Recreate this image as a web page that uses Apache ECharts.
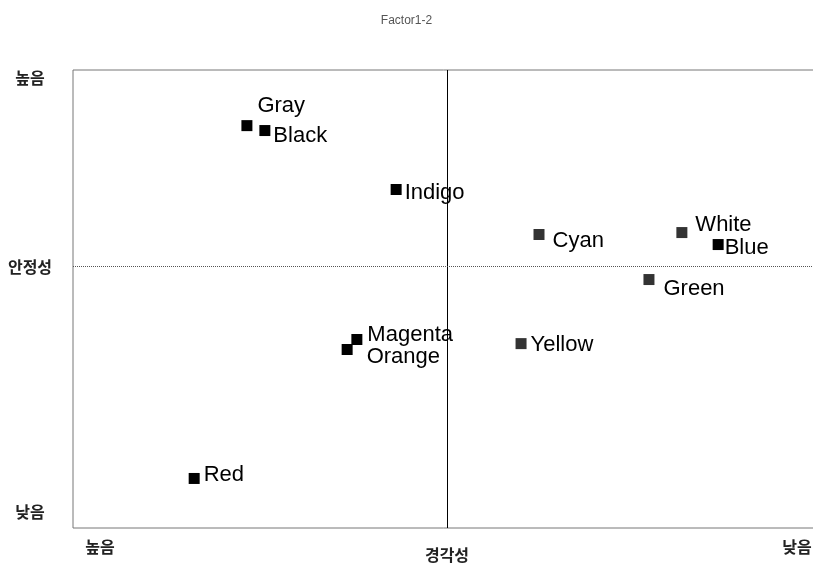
<!DOCTYPE html>
<html>
<head>
<meta charset="utf-8">
<script src="https://cdn.jsdelivr.net/npm/echarts@6/dist/echarts.min.js"></script>
<style>
  html, body { margin: 0; padding: 0; background: #fff; }
  #myChart { width: 813px; height: 565px; }
</style>
</head>
<body>
<div id="myChart"></div>
<script>
// data
var names = ["Gray", "Black", "Indigo", "Cyan", "White", "Blue", "Green", "Magenta", "Orange", "Yellow", "Red"];
var xValues = [-0.535, -0.487, -0.136, 0.246, 0.628, 0.725, 0.540, -0.241, -0.267, 0.198, -0.676];
var yValues = [0.717, 0.692, 0.392, 0.163, 0.173, 0.112, -0.066, -0.371, -0.422, -0.392, -1.078];

// axis tick labels
var xTickValues = [-0.928, 0, 0.936];
var xTickLabels = ["높음", "경각성", "낮음"];
var yTickValues = [0.961, 0, -1.246];
var yTickLabels = ["높음", "안정성", "낮음"];

// label placement per point: [distance, offsetX, offsetY]
var labelPlace = {
  Gray: [5, 0, -20], Black: [3, 0, 5], Indigo: [3, 0, 3], Cyan: [8, 0, 6],
  White: [8, 0, -8], Blue: [1, 0, 3], Green: [9, 0, 9], Magenta: [5, 0, -5],
  Orange: [14, 0, 7], Yellow: [4, 0, 1], Red: [4, 0, -4]
};
var greyMarks = { Cyan: true, White: true, Green: true, Yellow: true };

var points = names.map(function (n, i) {
  var p = labelPlace[n];
  return {
    name: n,
    value: [xValues[i], yValues[i]],
    itemStyle: { color: greyMarks[n] ? "#333" : "#000", opacity: 1 },
    label: { distance: p[0], offset: [p[1], p[2]] }
  };
});

function tickName(values, labels) {
  return function (v) {
    for (var i = 0; i < values.length; i++) {
      if (Math.abs(values[i] - v) < 1e-6) return labels[i] === "경각성" ? "{c|" + labels[i] + "}" : labels[i];
    }
    return "";
  };
}

var korFont = "Noto Sans CJK KR";

var option = {
  animation: false,
  title: {
    text: "Factor1-2",
    left: "center",
    top: 10,
    textStyle: { fontSize: 12, fontWeight: "normal", color: "#555", fontFamily: "Liberation Sans Narrow, Liberation Sans" }
  },
  grid: {
    left: 73, top: 70, width: 748, height: 458,
    outerBoundsMode: "none",
    show: true, borderColor: "#777", borderWidth: 1
  },
  xAxis: {
    type: "value", min: -1, max: 1,
    axisLine: { show: false }, axisTick: { show: false }, splitLine: { show: false },
    axisLabel: {
      customValues: xTickValues,
      formatter: tickName(xTickValues, xTickLabels),
      margin: 11,
      fontSize: 16, fontWeight: "bold", color: "#222",
      fontFamily: korFont,
      rich: { c: { fontSize: 16, fontWeight: "bold", color: "#222", fontFamily: korFont, padding: [8, 0, 0, 0] } }
    }
  },
  yAxis: {
    type: "value", min: -1.33, max: 1.0,
    axisLine: { show: false }, axisTick: { show: false }, splitLine: { show: false },
    axisLabel: {
      customValues: yTickValues,
      formatter: tickName(yTickValues, yTickLabels),
      margin: 43,
      align: "center",
      fontSize: 16, fontWeight: "bold", color: "#222",
      fontFamily: korFont
    }
  },
  series: [
    {
      type: "scatter",
      symbol: "rect",
      symbolSize: 11,
      itemStyle: { opacity: 1 },
      data: points,
      label: {
        show: true,
        position: "right",
        formatter: "{b}",
        fontSize: 22,
        color: "#000",
        fontFamily: "Liberation Sans, Arial"
      },
      markLine: {
        silent: true,
        symbol: "none",
        label: { show: false },
        data: [
          { xAxis: 0, lineStyle: { color: "#000", width: 1, type: "solid" } },
          { yAxis: 0, lineStyle: { color: "#555", width: 1, type: "dotted" } }
        ]
      }
    }
  ]
};

var myChart = echarts.init(document.getElementById("myChart"));
myChart.setOption(option);
</script>
</body>
</html>
